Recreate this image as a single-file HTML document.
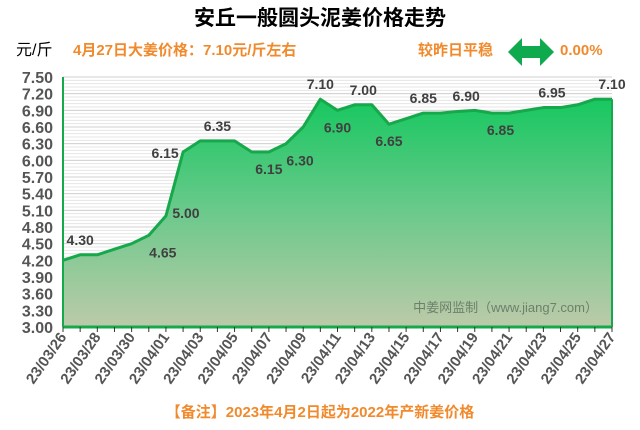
<!DOCTYPE html>
<html><head><meta charset="utf-8"><style>
body{margin:0;background:#fff}
svg text{font-family:"Liberation Sans","Noto Sans CJK SC",sans-serif}
</style></head><body>
<svg id="chart" width="640" height="425" viewBox="0 0 640 425" xmlns="http://www.w3.org/2000/svg">
<defs>
<linearGradient id="fillg" x1="0" y1="0" x2="0" y2="1">
<stop offset="0" stop-color="#17c860"/>
<stop offset="0.5" stop-color="#6cc98c"/>
<stop offset="1" stop-color="#bccaa9"/>
</linearGradient>
</defs>
<text x="320" y="25" text-anchor="middle" font-size="21" font-weight="bold" fill="#000">安丘一般圆头泥姜价格走势</text>
<text x="16" y="55" font-size="16" fill="#000">元/斤</text>
<text x="73" y="55" font-size="15" font-weight="bold" fill="#f08a2c">4月27日大姜价格：7.10元/斤左右</text>
<text x="418" y="55" font-size="15" font-weight="bold" fill="#f08a2c">较昨日平稳</text>
<polygon points="508,52 522,38 522,46 540,46 540,38 554,52 540,66 540,58 522,58 522,66" fill="#0eaa4d"/>
<text x="560" y="55" font-size="15" font-weight="bold" fill="#f08a2c">0.00%</text>
<g id="grid"></g>
<g id="plot"></g>
<g id="axes"></g>
<text x="598" y="312" text-anchor="end" font-size="13" fill="#6f7f6a">中姜网监制（www.jiang7.com）</text>
<text x="320" y="417" text-anchor="middle" font-size="15" font-weight="bold" fill="#f08a2c">【备注】2023年4月2日起为2022年产新姜价格</text>
</svg>
<script>
const dates = ["23/03/26","23/03/27","23/03/28","23/03/29","23/03/30","23/03/31","23/04/01","23/04/02","23/04/03","23/04/04","23/04/05","23/04/06","23/04/07","23/04/08","23/04/09","23/04/10","23/04/11","23/04/12","23/04/13","23/04/14","23/04/15","23/04/16","23/04/17","23/04/18","23/04/19","23/04/20","23/04/21","23/04/22","23/04/23","23/04/24","23/04/25","23/04/26","23/04/27"];
const prices = [4.20,4.30,4.30,4.40,4.50,4.65,5.00,6.15,6.35,6.35,6.35,6.15,6.15,6.30,6.60,7.10,6.90,7.00,7.00,6.65,6.75,6.85,6.85,6.88,6.90,6.85,6.85,6.90,6.95,6.95,7.00,7.10,7.10];
const yTicks = [3.00,3.30,3.60,3.90,4.20,4.50,4.80,5.10,5.40,5.70,6.00,6.30,6.60,6.90,7.20,7.50];
const labelIdx = [1,5,6,7,9,12,13,15,16,17.5,19,21,23.5,25.5,28.5,32];
const labelText = ["4.30","4.65","5.00","6.15","6.35","6.15","6.30","7.10","6.90","7.00","6.65","6.85","6.90","6.85","6.95","7.10"];
const labelPos = ["a","br","r","l","a","b","br","a","b","a","b","a","a","b","a","a"];
const NS="http://www.w3.org/2000/svg";
const X0=63,X1=612,Y0=327,Y1=77,YMIN=3,YMAX=7.5;
const xs=i=>X0+i*(X1-X0)/(dates.length-1);
const ys=v=>Y0-(v-YMIN)/(YMAX-YMIN)*(Y0-Y1);
function mk(t,a,parent){const e=document.createElementNS(NS,t);for(const k in a)e.setAttribute(k,a[k]);parent.appendChild(e);return e;}
const grid=document.getElementById('grid'),plot=document.getElementById('plot'),axes=document.getElementById('axes');
for(let v=YMIN;v<=YMAX+1e-6;v+=0.06){const l=mk('line',{x1:X0,x2:X1,y1:ys(v),y2:ys(v),stroke:'#e6e6e6','stroke-width':1},grid);

}
yTicks.forEach(v=>{const l=mk('line',{x1:X0,x2:X1,y1:ys(v),y2:ys(v),stroke:'#d2d2d2','stroke-width':1},grid);


const t=mk('text',{x:53,y:ys(v)+6,'text-anchor':'end','font-size':16,'font-weight':'bold',fill:'#555'},axes);


t.textContent=v.toFixed(2);});
let d='M'+xs(0)+','+Y0;prices.forEach((v,i)=>d+=' L'+xs(i)+','+ys(v));d+=' L'+xs(prices.length-1)+','+Y0+' Z';
const area=mk('path',{d:d,fill:'url(#fillg)'},plot);


const ln=mk('polyline',{points:prices.map((v,i)=>xs(i)+','+ys(v)).join(' '),fill:'none',stroke:'#17a84c','stroke-width':3,'stroke-linejoin':'round'},plot);


const ax=mk('line',{x1:X0,x2:X1,y1:Y0,y2:Y0,stroke:'#17a84c','stroke-width':3},axes);


const yax=mk('line',{x1:X0,x2:X0,y1:Y1,y2:Y0,stroke:'#17a84c','stroke-width':2},axes);


const rax=mk('line',{x1:X1,x2:X1,y1:ys(prices[prices.length-1]),y2:Y0,stroke:'#17a84c','stroke-width':2},axes);


dates.forEach((dt,i)=>{const tk=mk('line',{x1:xs(i),x2:xs(i),y1:Y0,y2:Y0+5,stroke:'#333','stroke-width':1},axes);


if(i%2===0){const tx=xs(i)+4,ty=Y0+10;const t=mk('text',{x:tx,y:ty,'text-anchor':'end','font-size':15,'font-weight':'bold',fill:'#555',transform:'rotate(-55 '+tx+' '+ty+')'},axes);


t.textContent=dt;}});
labelIdx.forEach((li,k)=>{const lo=Math.floor(li),hi=Math.ceil(li);const v=(prices[lo]+prices[hi])/2;
let x=xs(li),y=ys(v),p=labelPos[k];
if(p==='a'){y-=10;}else if(p==='b'){y+=22;}else if(p==='br'){x+=14;y+=22;}else if(p==='r'){x+=20;y+=2;}else if(p==='l'){x-=18;y+=6;}
const t=mk('text',{x:x,y:y,'text-anchor':'middle','font-size':14,'font-weight':'bold',fill:'#404040'},plot);


t.textContent=labelText[k];});
</script>
</body></html>
